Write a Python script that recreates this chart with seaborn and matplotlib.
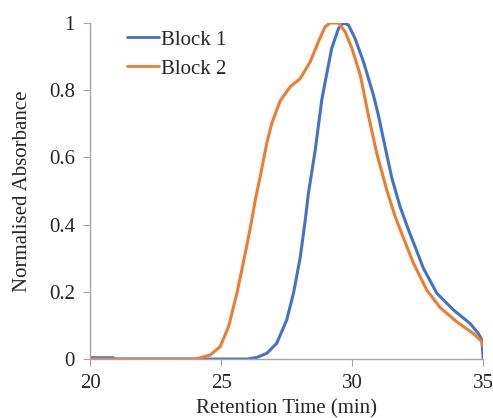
import pandas as pd
import matplotlib.pyplot as plt
import seaborn as sns

# Block 1 trace
b1_time = [20, 20.88, 20.9, 24.2, 26.0, 26.36, 26.74, 27.12, 27.5, 27.76, 28.02, 28.21,
           28.33, 28.59, 28.84, 28.97, 29.22, 29.48, 29.67, 29.86, 30.11, 30.43, 30.81,
           31.0, 31.2, 31.51, 31.83, 32.21, 32.4, 32.72, 33.23, 33.87, 34.5, 34.82,
           34.95, 35.0]
b1_abs = [0.004, 0.004, 0.0, 0.0, 0.0, 0.005, 0.017, 0.047, 0.116, 0.196, 0.304, 0.414,
          0.493, 0.622, 0.771, 0.825, 0.925, 0.984, 1.0, 0.994, 0.954, 0.885, 0.786,
          0.726, 0.652, 0.54, 0.453, 0.372, 0.335, 0.27, 0.196, 0.146, 0.106, 0.076,
          0.057, 0.002]

# Block 2 trace
b2_time = [20, 24.0, 24.26, 24.58, 24.96, 25.28, 25.6, 25.92, 26.17, 26.3, 26.49, 26.74,
           26.93, 27.25, 27.63, 28.02, 28.4, 28.71, 28.97, 29.16, 29.48, 29.73, 29.99,
           30.31, 30.62, 30.94, 31.32, 31.64, 31.96, 32.34, 32.85, 33.36, 33.99, 34.63,
           34.95, 35.0]
b2_abs = [0.0, 0.0, 0.005, 0.012, 0.037, 0.096, 0.196, 0.315, 0.414, 0.473, 0.543, 0.642,
          0.701, 0.768, 0.81, 0.835, 0.885, 0.944, 0.989, 1.0, 1.0, 0.974, 0.925,
          0.845, 0.725, 0.612, 0.503, 0.424, 0.36, 0.285, 0.205, 0.153, 0.111, 0.076,
          0.052, 0.037]

df = pd.concat([
    pd.DataFrame({"time": b1_time, "abs": b1_abs, "block": "Block 1"}),
    pd.DataFrame({"time": b2_time, "abs": b2_abs, "block": "Block 2"}),
])

sns.set_style("white")
plt.rcParams['font.family'] = ['Liberation Serif', 'DejaVu Serif']

fig = plt.figure(figsize=(4.93, 4.18), dpi=100)
ax = fig.add_axes([0.183, 0.141, 0.797, 0.804])

sns.lineplot(data=df, x="time", y="abs", hue="block", sort=False, estimator=None,
             palette={"Block 1": "#4472C4", "Block 2": "#ED7D31"}, linewidth=2.2,
             solid_joinstyle="round", ax=ax)

ax.set_xlim(20, 35)
ax.set_ylim(0, 1)
ax.set_xticks([20, 25, 30, 35])
ax.set_yticks([0, 0.2, 0.4, 0.6, 0.8, 1])
ax.set_yticklabels(["0", "0.2", "0.4", "0.6", "0.8", "1"])
ax.set_xlabel("Retention Time (min)", fontsize=15, labelpad=4)
ax.set_ylabel("Normalised Absorbance", fontsize=15, labelpad=12)
ax.tick_params(labelsize=15, direction="out", length=5, color="#A6A6A6",
               left=True, bottom=True, pad=6)

sns.despine(ax=ax)
for side in ["left", "bottom"]:
    ax.spines[side].set_color("#A6A6A6")
    ax.spines[side].set_linewidth(1)

leg = ax.legend(loc="upper left", bbox_to_anchor=(0.045, 1.035), frameon=False,
                fontsize=15, handlelength=1.55, handletextpad=0.1, labelspacing=0.45)
for line in leg.get_lines():
    line.set_linewidth(2)

fig.savefig("out.png", dpi=100)
